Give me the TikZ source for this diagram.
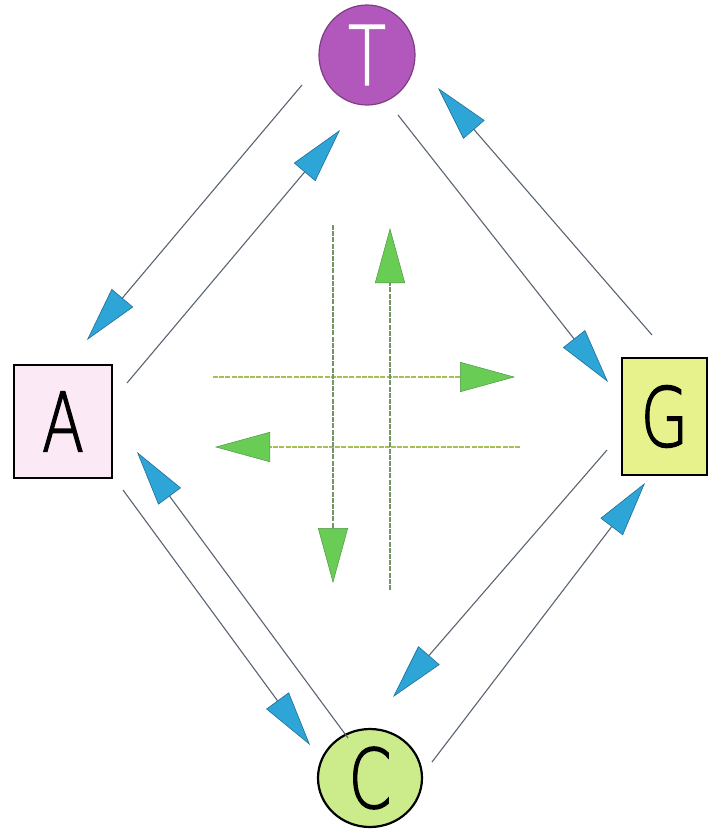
\documentclass[tikz,border=0pt]{standalone}
\usepackage{fontspec}
\setmainfont{Liberation Sans}
\IfFontExistsTF{DejaVu Sans ExtraLight}
  {\newfontfamily\letfont[FakeBold=2]{DejaVu Sans ExtraLight}\newcommand{\letscale}{0.75}\newcommand{\letsize}{82}}
  {\newfontfamily\letfont{Liberation Sans}\newcommand{\letscale}{0.62}\newcommand{\letsize}{84}}
\usetikzlibrary{arrows.meta,shapes.geometric}
\definecolor{tpurple}{RGB}{178,88,188}
\definecolor{apink}{RGB}{251,233,246}
\definecolor{gyellow}{RGB}{232,242,140}
\definecolor{cgreen}{RGB}{204,236,140}
\definecolor{bluehead}{RGB}{45,165,215}
\definecolor{bluedge}{RGB}{35,110,150}
\definecolor{blueline}{RGB}{90,100,115}
\definecolor{greenhead}{RGB}{105,205,85}
\definecolor{greenedge}{RGB}{80,150,70}
\definecolor{greenline}{RGB}{115,150,100}
\definecolor{olive}{RGB}{165,190,85}
\newcommand{\biglet}[1]{{\letfont\fontsize{\letsize}{\letsize}\selectfont\scalebox{\letscale}[1]{#1}}}
\tikzset{
  x=1pt, y=-1pt,
  basenode/.style={inner sep=0pt, outer sep=0pt},
  boxnode/.style={basenode, draw=black, line width=1.8pt, rectangle},
  rndnode/.style={basenode, ellipse},
  bluearrow/.style={draw=blueline, line width=1.1pt,
    -{Triangle[length=55pt,width=28pt,fill=bluehead,color=bluedge,line width=0.6pt]}},
  greenarrow/.style={draw=#1, line width=1.2pt, dash pattern=on 5pt off 1.2pt,
    -{Triangle[length=55pt,width=30pt,fill=greenhead,color=greenedge,line width=0.5pt]}},
}
\begin{document}
\begin{tikzpicture}
\useasboundingbox[fill=white] (0,0) rectangle (710,831);
% nodes
\node[rndnode, fill=tpurple, draw=tpurple!70!black, line width=1.2pt,
      minimum width=96pt, minimum height=100pt, text=white] (T) at (367,55) {\biglet{T}};
\node[boxnode, fill=apink, minimum width=98pt, minimum height=113pt] (A) at (63,421.5) {\biglet{A}};
\node[boxnode, fill=gyellow, minimum width=85pt, minimum height=117pt] (G) at (664.5,416.5) {\biglet{G}};
\node[rndnode, fill=cgreen, draw=black, line width=2.2pt,
      minimum width=104pt, minimum height=98pt] (C) at (370,778) {\biglet{C}};
% connector end points
\coordinate (ta1) at (302,85);  \coordinate (ta2) at (87,340);
\coordinate (at1) at (127,383); \coordinate (at2) at (340,130);
\coordinate (tg1) at (398,115); \coordinate (tg2) at (608,382);
\coordinate (gt1) at (652,335); \coordinate (gt2) at (438,88);
\coordinate (ca1) at (348,738); \coordinate (ca2) at (137,452);
\coordinate (ac1) at (123,490); \coordinate (ac2) at (310,745);
\coordinate (gc1) at (607,450); \coordinate (gc2) at (393,697);
\coordinate (cg1) at (432,762); \coordinate (cg2) at (645,483);
\draw[bluearrow] (ta1) -- (ta2);
\draw[bluearrow] (at1) -- (at2);
\draw[bluearrow] (tg1) -- (tg2);
\draw[bluearrow] (gt1) -- (gt2);
\draw[bluearrow] (ca1) -- (ca2);
\draw[bluearrow] (ac1) -- (ac2);
\draw[bluearrow] (gc1) -- (gc2);
\draw[bluearrow] (cg1) -- (cg2);
% green cross
\coordinate (d1) at (333,225); \coordinate (d2) at (333,583);
\coordinate (u1) at (390,590); \coordinate (u2) at (390,228);
\coordinate (r1) at (213,377); \coordinate (r2) at (515,377);
\coordinate (l1) at (520,447); \coordinate (l2) at (215,447);
\draw[greenarrow=olive] (r1) -- (r2);
\draw[greenarrow=olive] (l1) -- (l2);
\draw[greenarrow=greenline] (d1) -- (d2);
\draw[greenarrow=greenline] (u1) -- (u2);
\end{tikzpicture}
\end{document}
